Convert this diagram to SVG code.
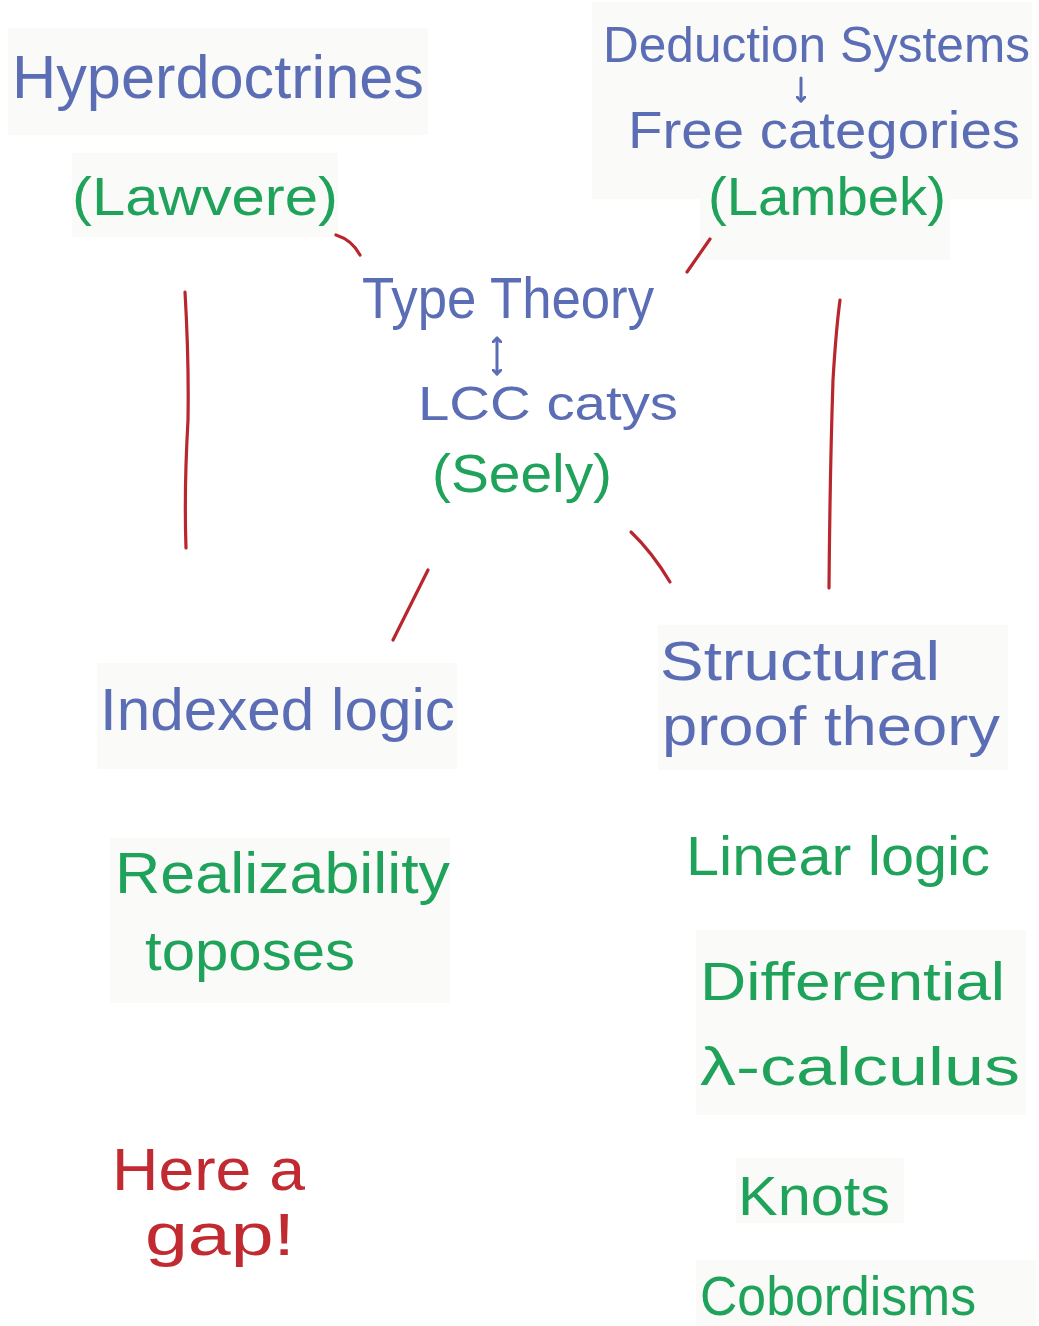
<svg xmlns="http://www.w3.org/2000/svg" width="1039" height="1326" viewBox="0 0 1039 1326">
<defs>
<marker id="ah" markerWidth="10" markerHeight="10" refX="5" refY="5" orient="auto-start-reverse" markerUnits="userSpaceOnUse">
<path d="M0,0 L5,5 L0,10" fill="none" stroke="#5b6db4" stroke-width="3" stroke-linecap="round" stroke-linejoin="round"/>
</marker>
</defs>
<style>
text{font-family:"Liberation Sans","DejaVu Sans",sans-serif;}
.b{fill:#5b6db4;}
.g{fill:#1fa25a;}
.r{fill:#c02a30;}
.ln{stroke:#b8262e;stroke-width:3.2;fill:none;stroke-linecap:round;}
.ar{stroke:#5b6db4;stroke-width:3;fill:none;stroke-linecap:round;}
.p{fill:#fafaf8;}
</style>
<rect width="1039" height="1326" fill="#ffffff"/>
<g id="patches">
<rect class="p" x="8" y="28" width="420" height="107"/>
<rect class="p" x="72" y="153" width="266" height="84"/>
<rect class="p" x="592" y="2" width="440" height="197"/>
<rect class="p" x="700" y="195" width="250" height="65"/>
<rect class="p" x="97" y="663" width="360" height="106"/>
<rect class="p" x="658" y="625" width="350" height="145"/>
<rect class="p" x="110" y="838" width="340" height="165"/>
<rect class="p" x="696" y="930" width="330" height="185"/>
<rect class="p" x="736" y="1158" width="168" height="65"/>
<rect class="p" x="696" y="1260" width="340" height="66"/>
</g>
<g id="connectors">
<path class="ln" d="M336,235 Q352,240 360,255"/>
<path class="ln" d="M710,239 L687,272"/>
<path class="ln" d="M185,292 Q189,360 188,420 Q184,490 186,548"/>
<path class="ln" d="M840,300 Q836,330 833,380 Q830,470 829,588"/>
<path class="ln" d="M428,570 L393,640"/>
<path class="ln" d="M631,532 Q652,552 670,582"/>
</g>
<g id="hyperdoctrines">
<text class="b" x="12" y="98" font-size="62" textLength="412" lengthAdjust="spacingAndGlyphs">Hyperdoctrines</text>
<text class="g" x="72" y="215" font-size="54" textLength="266" lengthAdjust="spacingAndGlyphs">(Lawvere)</text>
</g>
<g id="deduction">
<text class="b" x="603" y="62" font-size="50" textLength="427" lengthAdjust="spacingAndGlyphs">Deduction Systems</text>
<path class="ar" d="M801,78 L801,101" marker-end="url(#ah)"/>
<text class="b" x="628" y="148" font-size="52" textLength="392" lengthAdjust="spacingAndGlyphs">Free categories</text>
<text class="g" x="708" y="215" font-size="54" textLength="238" lengthAdjust="spacingAndGlyphs">(Lambek)</text>
</g>
<g id="typetheory">
<text class="b" x="362" y="318" font-size="58" textLength="292" lengthAdjust="spacingAndGlyphs">Type Theory</text>
<path class="ar" d="M497,338 L497,374" marker-start="url(#ah)" marker-end="url(#ah)"/>
<text class="b" x="418" y="420" font-size="48" textLength="260" lengthAdjust="spacingAndGlyphs">LCC catys</text>
<text class="g" x="432" y="492" font-size="54" textLength="180" lengthAdjust="spacingAndGlyphs">(Seely)</text>
</g>
<g id="indexedlogic">
<text class="b" x="100" y="730" font-size="60" textLength="355" lengthAdjust="spacingAndGlyphs">Indexed logic</text>
</g>
<g id="realizability">
<text class="g" x="115" y="893" font-size="58" textLength="335" lengthAdjust="spacingAndGlyphs">Realizability</text>
<text class="g" x="145" y="970" font-size="56" textLength="210" lengthAdjust="spacingAndGlyphs">toposes</text>
</g>
<g id="gap">
<text class="r" x="112" y="1190" font-size="60" textLength="193" lengthAdjust="spacingAndGlyphs">Here a</text>
<text class="r" x="145" y="1255" font-size="60" textLength="150" lengthAdjust="spacingAndGlyphs">gap!</text>
</g>
<g id="structural">
<text class="b" x="660" y="680" font-size="56" textLength="280" lengthAdjust="spacingAndGlyphs">Structural</text>
<text class="b" x="662" y="745" font-size="56" textLength="338" lengthAdjust="spacingAndGlyphs">proof theory</text>
</g>
<g id="linearlogic">
<text class="g" x="686" y="875" font-size="56" textLength="304" lengthAdjust="spacingAndGlyphs">Linear logic</text>
</g>
<g id="differential">
<text class="g" x="700" y="1000" font-size="54" textLength="305" lengthAdjust="spacingAndGlyphs">Differential</text>
<text class="g" x="700" y="1085" font-size="54" textLength="320" lengthAdjust="spacingAndGlyphs">λ-calculus</text>
</g>
<g id="knots">
<text class="g" x="738" y="1215" font-size="56" textLength="152" lengthAdjust="spacingAndGlyphs">Knots</text>
</g>
<g id="cobordisms">
<text class="g" x="700" y="1315" font-size="56" textLength="276" lengthAdjust="spacingAndGlyphs">Cobordisms</text>
</g>
</svg>
